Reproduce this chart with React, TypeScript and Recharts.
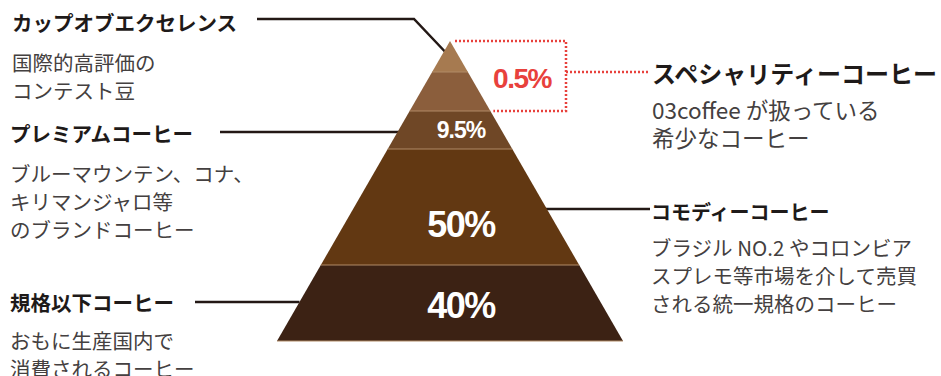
import { BarChart, Bar, XAxis, YAxis, Customized } from 'recharts'

// layers from the base up
const layerNames = ['規格以下コーヒー', 'コモディーコーヒー', 'プレミアムコーヒー', 'スペシャリティー上層', 'カップオブエクセレンス']
const layerHeights = [76, 116, 38, 39, 31]
const shareLabels = ['40%', '50%', '9.5%', '', '']
const layerColors = ['#3c2214', '#623812', '#6f4726', '#8b5e3c', '#a67a50']
const specialtyShare = '0.5%'

const W = 941
const H = 376
const M = { top: 41, right: 318, bottom: 35, left: 277 }
const PLOT_H = H - M.top - M.bottom
const PLOT_W = W - M.left - M.right
const TOTAL = layerHeights.reduce((a, b) => a + b, 0)
const CX = M.left + PLOT_W / 2

const row: Record<string, number | string> = { name: 'pyramid' }
layerHeights.forEach((h, i) => { row['l' + i] = h })
const data = [row]

// y pixel of cumulative value
const yAt = (v: number) => M.top + PLOT_H * (1 - v / TOTAL)
const halfAt = (py: number) => (PLOT_W / 2) * (py - M.top) / PLOT_H
const cum = (i: number) => layerHeights.slice(0, i).reduce((a, b) => a + b, 0)

// label nudges, the print piece sets them a bit low / right
const labelDy = [2, 17, 0, 0, 0]

function makeShape(i: number) {
  return (props: any) => {
    const { x, y, width, height } = props
    const cx = x + width / 2
    const top = y
    const bot = y + height
    const ht = halfAt(top)
    const hb = halfAt(bot)
    const fs = i === 2 ? 23 : 36
    return (
      <g>
        <path
          d={`M${cx - ht},${top} L${cx + ht},${top} L${cx + hb},${bot} L${cx - hb},${bot} Z`}
          fill={layerColors[i]}
        />
        <line x1={cx - hb} x2={cx + hb} y1={bot} y2={bot} stroke="#b08a66" strokeWidth={1} />
        {shareLabels[i] && (
          <text
            x={cx + 11}
            y={(top + bot) / 2 + labelDy[i]}
            textAnchor="middle"
            dominantBaseline="central"
            fill="#fff"
            fontFamily="'Liberation Sans', Arial, sans-serif"
            fontWeight={700}
            fontSize={fs}
            letterSpacing={i === 2 ? -1 : -1.5}
          >
            {shareLabels[i]}
          </text>
        )}
      </g>
    )
  }
}

const jp = "'Noto Sans CJK JP', 'Noto Sans', sans-serif"
const ink = '#1e1a19'
const sub = '#444040'

function Lines({ x, y, lines, size, lh }: { x: number; y: number; lines: string[]; size: number; lh: number }) {
  return (
    <text fontFamily={jp} fontSize={size} fill={sub}>
      {lines.map((l, k) => (
        <tspan key={k} x={x} y={y + k * lh} dominantBaseline="central">{l}</tspan>
      ))}
    </text>
  )
}

function Head({ x, y, t, size = 20 }: { x: number; y: number; t: string; size?: number }) {
  return (
    <text x={x} y={y} fontFamily={jp} fontSize={size} fontWeight={700} fill={ink} dominantBaseline="central">
      {t}
    </text>
  )
}

function Annotations() {
  const apexY = yAt(TOTAL)
  const specBottom = yAt(cum(3))
  const specMid = yAt(cum(4))
  const boxRight = 566
  const red = '#e8413c'
  return (
    <g>
      {/* specialty bracket */}
      <path
        d={`M${CX + 5},${apexY} H${boxRight} V${specBottom} H${CX + halfAt(specBottom) + 3}`}
        fill="none" stroke={red} strokeWidth={2.5} strokeDasharray="2 2"
      />
      <line x1={boxRight} x2={648} y1={specMid} y2={specMid} stroke={red} strokeWidth={2.5} strokeDasharray="2 2" />
      <text x={522} y={78} textAnchor="middle" dominantBaseline="central" fill={red}
        fontFamily="'Liberation Sans', Arial, sans-serif" fontWeight={700} fontSize={28} letterSpacing={-1.5}>
        {specialtyShare}
      </text>

      {/* leader lines */}
      <g stroke="#231815" strokeWidth={2.5} fill="none">
        <polyline points={`257,19 414,19 451,58`} />
        <line x1={220} x2={417} y1={132} y2={132} />
        <line x1={538} x2={650} y1={209} y2={209} />
        <line x1={195} x2={CX - halfAt(302)} y1={302} y2={302} />
      </g>

      <Head x={12} y={22} t="カップオブエクセレンス" size={20.5} />
      <Lines x={12} y={62} lines={['国際的高評価の', 'コンテスト豆']} size={20.5} lh={28} />

      <Head x={10} y={133} t={layerNames[2]} size={20.5} />
      <Lines x={10} y={173} lines={['ブルーマウンテン、コナ、', 'キリマンジャロ等', 'のブランドコーヒー']} size={20.5} lh={28} />

      <Head x={10} y={302} t={layerNames[0]} size={20.5} />
      <Lines x={10} y={340} lines={['おもに生産国内で', '消費されるコーヒー']} size={20.5} lh={28} />

      <Head x={652} y={72} t="スペシャリティーコーヒー" size={24} />
      <Lines x={652} y={109} lines={['03coffee が扱っている', '希少なコーヒー']} size={22.5} lh={28} />

      <Head x={651} y={211} t={layerNames[1]} size={20} />
      <Lines x={651} y={247} lines={['ブラジル NO.2 やコロンビア', 'スプレモ等市場を介して売買', 'される統一規格のコーヒー']} size={20.5} lh={28} />
    </g>
  )
}

export default function App() {
  return (
    <div style={{ position: 'fixed', left: 0, top: 0, width: W, height: H, background: '#fff' }}>
      <BarChart width={W} height={H} data={data} margin={M} barCategoryGap={0} barGap={0}>
        <XAxis dataKey="name" hide />
        <YAxis type="number" domain={[0, TOTAL]} hide />
        {layerHeights.map((_, i) => (
          <Bar key={i} dataKey={'l' + i} stackId="p" shape={makeShape(i)} isAnimationActive={false} />
        ))}
        <Customized component={<Annotations />} />
      </BarChart>
    </div>
  )
}
